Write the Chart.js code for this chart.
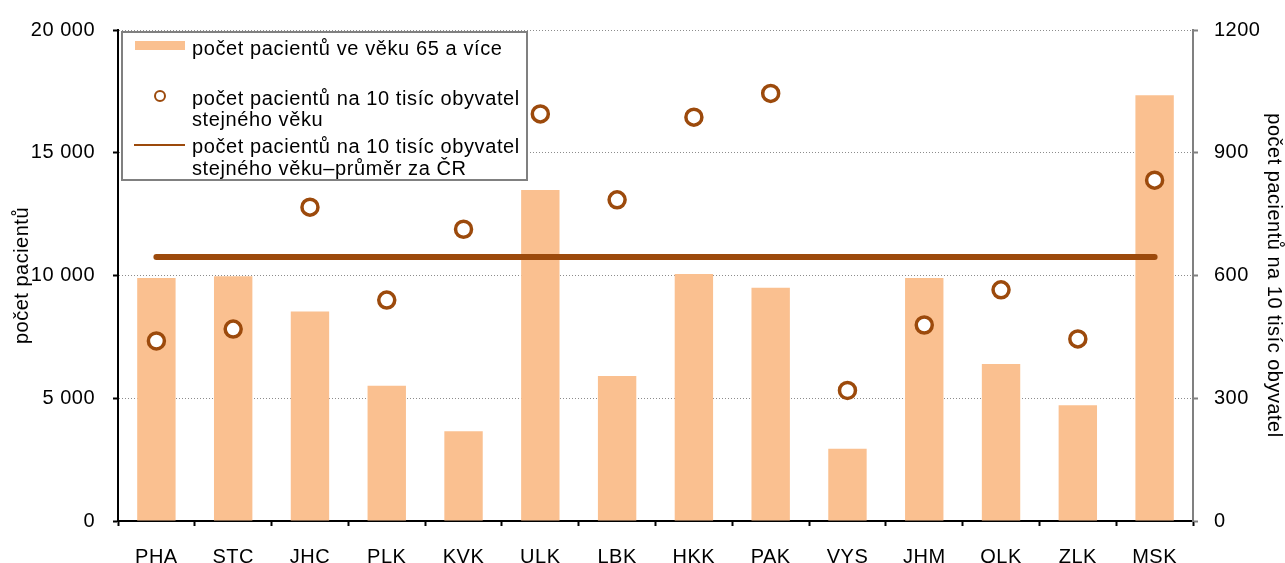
<!DOCTYPE html>
<html>
<head>
<meta charset="utf-8">
<script src="https://cdn.jsdelivr.net/npm/chart.js@4.4.0/dist/chart.umd.min.js"></script>
<style>
  body { margin: 0; background: #fff; }
</style>
</head>
<body>
<canvas id="krajChart" width="1285" height="563"></canvas>
<script>
const regions = ['PHA', 'STC', 'JHC', 'PLK', 'KVK', 'ULK', 'LBK', 'HKK', 'PAK', 'VYS', 'JHM', 'OLK', 'ZLK', 'MSK'];
// počet pacientů ve věku 65 a více
const patients65 = [9900, 9970, 8530, 5510, 3660, 13480, 5910, 10060, 9500, 2940, 9900, 6400, 4710, 17340];
// počet pacientů na 10 tisíc obyvatel stejného věku
const per10k = [440, 469, 767, 540, 713, 995, 785, 987, 1045, 319, 479, 565, 445, 833];
// průměr za ČR
const per10kAvg = [645, 645, 645, 645, 645, 645, 645, 645, 645, 645, 645, 645, 645, 645];
const leftTicks = ['0', '5 000', '10 000', '15 000', '20 000'];
const rightTicks = ['0', '300', '600', '900', '1200'];

const barColor = '#FAC090';
const brown = '#9C4A0C';
const font = '"Liberation Sans", Arial, sans-serif';

Chart.defaults.font.family = font;
Chart.defaults.font.size = 20;
Chart.defaults.color = '#000';

// canvas resize resets the context, so set the spacing before layout and draw
const spacingPlugin = {
    id: 'spacing',
    beforeUpdate(chart) { chart.ctx.letterSpacing = '0.5px'; },
    beforeLayout(chart) { chart.ctx.letterSpacing = '0.5px'; },
    beforeDraw(chart) { chart.ctx.letterSpacing = '0.5px'; }
};

// legend box drawn over the plot area like in the original
const legendPlugin = {
    id: 'boxLegend',
    afterDraw(chart) {
        const ctx = chart.ctx;
        ctx.save();
        ctx.letterSpacing = '0.6px';
        ctx.fillStyle = '#fff';
        ctx.fillRect(122, 32, 405, 148);
        ctx.strokeStyle = '#808080';
        ctx.lineWidth = 2;
        ctx.strokeRect(122, 32, 405, 148);

        ctx.fillStyle = barColor;
        ctx.fillRect(135, 41, 50, 9);

        ctx.beginPath();
        ctx.arc(160, 96, 5, 0, Math.PI * 2);
        ctx.fillStyle = '#fff';
        ctx.fill();
        ctx.strokeStyle = brown;
        ctx.lineWidth = 2;
        ctx.stroke();

        ctx.beginPath();
        ctx.moveTo(134, 145);
        ctx.lineTo(185, 145);
        ctx.stroke();

        ctx.fillStyle = '#000';
        ctx.font = '20px ' + font;
        ctx.textBaseline = 'alphabetic';
        ctx.textAlign = 'left';
        ctx.fillText('počet pacientů ve věku 65 a více', 192, 55);
        ctx.fillText('počet pacientů na 10 tisíc obyvatel', 192, 105);
        ctx.fillText('stejného věku', 192, 126);
        ctx.fillText('počet pacientů na 10 tisíc obyvatel', 192, 153);
        ctx.fillText('stejného věku–průměr za ČR', 192, 175);
        ctx.restore();
    }
};

const chartData = {
    labels: regions,
    datasets: [
        {
            type: 'line',
            label: 'počet pacientů na 10 tisíc obyvatel stejného věku',
            data: per10k,
            yAxisID: 'y1',
            showLine: false,
            pointStyle: 'circle',
            pointRadius: 8,
            pointBorderWidth: 3.5,
            pointBorderColor: brown,
            pointBackgroundColor: '#fff',
            order: 1
        },
        {
            type: 'line',
            label: 'počet pacientů na 10 tisíc obyvatel stejného věku–průměr za ČR',
            data: per10kAvg,
            yAxisID: 'y1',
            borderColor: brown,
            borderWidth: 6,
            borderCapStyle: 'round',
            pointRadius: 0,
            order: 2
        },
        {
            type: 'bar',
            label: 'počet pacientů ve věku 65 a více',
            data: patients65,
            yAxisID: 'y',
            backgroundColor: barColor,
            barPercentage: 0.5,
            categoryPercentage: 1,
            order: 3
        }
    ]
};

const chartConfig = {
    type: 'bar',
    data: chartData,
    plugins: [spacingPlugin, legendPlugin],
    options: {
        responsive: false,
        animation: false,
        layout: { padding: { top: 24, left: 0, right: 0, bottom: 0 } },
        plugins: {
            legend: { display: false },
            tooltip: { enabled: false }
        },
        scales: {
            x: {
                offset: true,
                grid: {
                    offset: true,
                    drawOnChartArea: false,
                    tickLength: 5,
                    tickColor: '#000',
                    tickWidth: 2
                },
                border: { color: '#000', width: 2 },
                ticks: { padding: 19, maxRotation: 0, autoSkip: false },
                afterFit: (scale) => { scale.height = 42; }
            },
            y: {
                position: 'left',
                min: 0,
                max: 20000,
                ticks: {
                    stepSize: 5000,
                    padding: 18,
                    callback: (value, index) => leftTicks[index]
                },
                grid: {
                    color: '#8c8c8c',
                    lineWidth: 1,
                    tickBorderDash: [],
                    tickColor: '#000',
                    tickWidth: 2,
                    tickLength: 5
                },
                // in v4 the dash of the grid lines sits under border
                border: { color: '#000', width: 2, dash: [1, 2] },
                title: {
                    display: true,
                    text: 'počet pacientů',
                    font: { size: 20, lineHeight: 1 },
                    padding: { top: 12, bottom: 0 }
                },
                afterFit: (scale) => { scale.width = 118; }
            },
            y1: {
                position: 'right',
                min: 0,
                max: 1200,
                ticks: {
                    stepSize: 300,
                    padding: 16,
                    callback: (value, index) => rightTicks[index]
                },
                grid: {
                    drawOnChartArea: false,
                    tickColor: '#808080',
                    tickWidth: 2,
                    tickLength: 5
                },
                border: { color: '#808080', width: 2 },
                title: {
                    display: true,
                    text: 'počet pacientů na 10 tisíc obyvatel',
                    font: { size: 20, lineHeight: 1 },
                    padding: { top: 1, bottom: 0 }
                },
                afterFit: (scale) => { scale.width = 92; }
            }
        }
    }
};

const krajChart = new Chart(
    document.getElementById('krajChart'),
    chartConfig
);
</script>
</body>
</html>
